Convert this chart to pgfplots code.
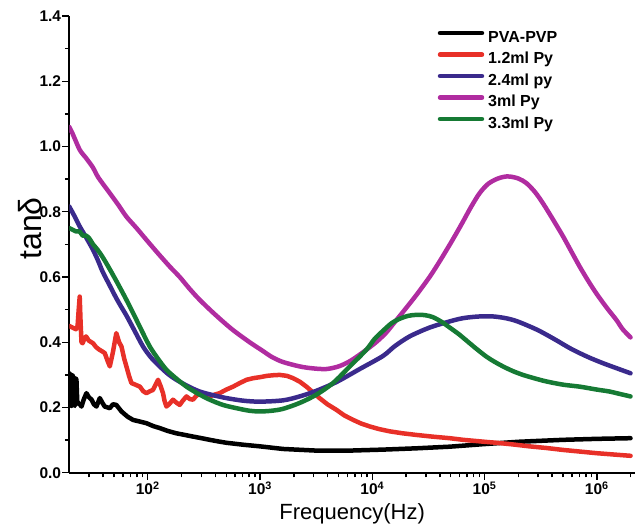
\documentclass[border=0pt]{standalone}
\usepackage{fontspec}
\setmainfont{Liberation Sans}
\usepackage{pgfplots}
\pgfplotsset{compat=1.18}
\definecolor{cred}{RGB}{232,48,40}
\definecolor{cblue}{RGB}{58,42,140}
\definecolor{cmag}{RGB}{176,44,160}
\definecolor{cgreen}{RGB}{22,122,52}
\newcommand\tickfont{\fontsize{15.5}{17}\selectfont\bfseries}
\begin{document}
\begin{tikzpicture}
\begin{axis}[
  scale only axis, width=566pt, height=457pt,
  xmin=1.301, xmax=6.34, ymin=0, ymax=1.4,
  axis x line*=bottom, axis y line*=left,
  axis line style={-, line width=1.6pt},
  xtick={2,3,4,5,6},
  xticklabels={10\textsuperscript{2},10\textsuperscript{3},10\textsuperscript{4},10\textsuperscript{5},10\textsuperscript{6}},
  minor xtick={1.477,1.602,1.699,1.778,1.845,1.903,1.954,
    2.301,2.477,2.602,2.699,2.778,2.845,2.903,2.954,
    3.301,3.477,3.602,3.699,3.778,3.845,3.903,3.954,
    4.301,4.477,4.602,4.699,4.778,4.845,4.903,4.954,
    5.301,5.477,5.602,5.699,5.778,5.845,5.903,5.954,6.301},
  ytick={0,0.2,0.4,0.6,0.8,1.0,1.2,1.4},
  minor ytick={0.1,0.3,0.5,0.7,0.9,1.1,1.3},
  tick align=outside, major tick length=7pt, minor tick length=4.5pt,
  every tick/.style={black, line width=1.4pt},
  ticklabel style={font=\tickfont},
  yticklabel style={inner sep=1pt, /pgf/number format/.cd, fixed, fixed zerofill, precision=1, assume math mode=true},
  xticklabel style={inner sep=2pt},
  xlabel={Frequency(Hz)},
  xlabel style={font=\fontsize{22}{25}\selectfont, inner sep=0pt, yshift=-6pt},
  ylabel={tanδ},
  ylabel style={font=\fontsize{32}{36}\selectfont, at={(axis description cs:-0.07,0.535)}, anchor=center},
  no markers,
  every axis plot/.append style={line width=4.5pt, line join=round, line cap=round},
  legend style={at={(axis description cs:0.651,0.968)}, anchor=north west, draw=none, fill=none, inner sep=0pt,
    row sep=7pt, column sep=4pt, font=\fontsize{16}{18}\selectfont\bfseries,
    nodes={inner sep=0pt, text height=11.5pt, text depth=3pt}},
  legend cell align=left,
  legend image code/.code={\draw[#1, line width=4.5pt] (0pt,5pt) -- (42pt,5pt);},
]
\addplot[black] table {
1.301 0.305
1.31 0.30
1.32 0.205
1.328 0.30
1.335 0.295
1.342 0.21
1.35 0.205
1.357 0.29
1.365 0.285
1.372 0.22
1.38 0.213
1.395 0.21
1.41 0.203
1.43 0.225
1.454 0.244
1.475 0.232
1.50 0.224
1.52 0.21
1.543 0.203
1.573 0.229
1.595 0.215
1.617 0.203
1.662 0.198
1.69 0.21
1.72 0.208
1.766 0.188
1.82 0.172
1.869 0.162
1.93 0.157
1.988 0.152
2.05 0.143
2.107 0.137
2.18 0.128
2.255 0.121
2.33 0.116
2.403 0.111
2.48 0.106
2.552 0.101
2.63 0.096
2.70 0.092
2.85 0.086
3.0 0.081
3.205 0.073
3.5 0.068
3.8 0.068
4.095 0.071
4.393 0.075
4.69 0.080
5.0 0.088
5.3 0.095
5.7 0.101
6.0 0.104
6.30 0.106
};
\addlegendentry{PVA-PVP}
\addplot[cred] table {
1.301 0.45
1.33 0.445
1.36 0.44
1.375 0.45
1.385 0.50
1.394 0.54
1.402 0.46
1.41 0.40
1.42 0.397
1.435 0.41
1.45 0.418
1.475 0.405
1.513 0.397
1.54 0.385
1.57 0.377
1.595 0.372
1.617 0.367
1.64 0.345
1.662 0.326
1.69 0.37
1.72 0.428
1.745 0.40
1.766 0.387
1.79 0.35
1.81 0.326
1.835 0.295
1.855 0.275
1.89 0.27
1.93 0.264
1.96 0.25
1.988 0.244
2.02 0.25
2.047 0.254
2.07 0.27
2.092 0.285
2.115 0.265
2.136 0.244
2.15 0.22
2.166 0.203
2.19 0.21
2.225 0.224
2.255 0.215
2.285 0.208
2.31 0.22
2.345 0.234
2.375 0.226
2.403 0.224
2.43 0.235
2.463 0.244
2.51 0.238
2.552 0.234
2.60 0.24
2.64 0.244
2.70 0.255
2.76 0.264
2.82 0.275
2.88 0.285
2.94 0.29
3.0 0.293
3.06 0.297
3.12 0.299
3.175 0.30
3.24 0.297
3.294 0.29
3.355 0.279
3.413 0.264
3.47 0.247
3.53 0.229
3.6 0.21
3.68 0.193
3.75 0.176
3.83 0.162
3.9 0.151
3.977 0.142
4.06 0.134
4.155 0.127
4.27 0.121
4.393 0.116
4.53 0.111
4.69 0.106
4.81 0.101
5.0 0.095
5.105 0.092
5.25 0.087
5.40 0.081
5.55 0.076
5.70 0.07
5.85 0.065
6.0 0.06
6.15 0.056
6.30 0.052
};
\addlegendentry{1.2ml Py}
\addplot[cblue, smooth] table {
1.301 0.816
1.35 0.785
1.394 0.755
1.45 0.722
1.513 0.683
1.56 0.648
1.60 0.615
1.66 0.575
1.72 0.535
1.765 0.508
1.81 0.482
1.88 0.437
1.958 0.387
2.03 0.353
2.107 0.326
2.18 0.303
2.255 0.285
2.36 0.265
2.463 0.249
2.58 0.238
2.70 0.229
2.85 0.221
3.0 0.218
3.205 0.222
3.353 0.234
3.50 0.251
3.68 0.278
3.888 0.318
4.095 0.358
4.2 0.388
4.333 0.418
4.51 0.445
4.69 0.464
4.81 0.474
4.95 0.479
5.08 0.479
5.2 0.473
5.3 0.463
5.47 0.438
5.62 0.41
5.77 0.38
5.92 0.355
6.054 0.336
6.18 0.32
6.30 0.305
};
\addlegendentry{2.4ml py}
\addplot[cmag, smooth] table {
1.301 1.06
1.33 1.04
1.394 0.99
1.45 0.965
1.513 0.935
1.56 0.905
1.662 0.857
1.74 0.82
1.81 0.785
1.9 0.75
1.988 0.714
2.09 0.673
2.196 0.632
2.285 0.60
2.37 0.565
2.463 0.53
2.6 0.485
2.75 0.44
2.908 0.40
3.027 0.373
3.1 0.356
3.2 0.34
3.353 0.326
3.47 0.32
3.59 0.318
3.70 0.326
3.80 0.342
3.92 0.37
4.04 0.402
4.125 0.43
4.184 0.455
4.29 0.50
4.393 0.545
4.51 0.60
4.60 0.648
4.70 0.705
4.80 0.765
4.88 0.815
4.956 0.857
5.03 0.885
5.105 0.90
5.17 0.907
5.224 0.908
5.30 0.902
5.372 0.888
5.45 0.86
5.52 0.826
5.61 0.776
5.70 0.724
5.77 0.68
5.847 0.632
5.92 0.59
5.995 0.55
6.09 0.505
6.173 0.469
6.23 0.44
6.30 0.415
};
\addlegendentry{3ml Py}
\addplot[cgreen, smooth] table {
1.301 0.75
1.33 0.745
1.36 0.74
1.394 0.739
1.42 0.727
1.45 0.727
1.48 0.718
1.513 0.70
1.55 0.685
1.60 0.66
1.66 0.625
1.72 0.588
1.795 0.54
1.869 0.49
1.94 0.44
2.018 0.387
2.09 0.35
2.166 0.316
2.25 0.29
2.345 0.264
2.45 0.242
2.552 0.224
2.67 0.208
2.79 0.198
2.908 0.19
3.0 0.188
3.1 0.19
3.205 0.196
3.353 0.214
3.50 0.239
3.65 0.275
3.80 0.326
3.947 0.377
4.02 0.41
4.095 0.435
4.17 0.458
4.244 0.472
4.32 0.481
4.393 0.484
4.47 0.483
4.54 0.477
4.62 0.462
4.69 0.445
4.77 0.425
4.84 0.405
4.92 0.382
5.016 0.356
5.09 0.34
5.164 0.326
5.25 0.312
5.342 0.30
5.45 0.289
5.55 0.28
5.70 0.27
5.847 0.264
6.0 0.255
6.114 0.249
6.2 0.242
6.30 0.234
};
\addlegendentry{3.3ml Py}
\end{axis}
\path (current axis.south west) ++(-69.3pt,-52pt) rectangle ([shift={(7pt,16pt)}]current axis.north east);
\end{tikzpicture}
\end{document}
